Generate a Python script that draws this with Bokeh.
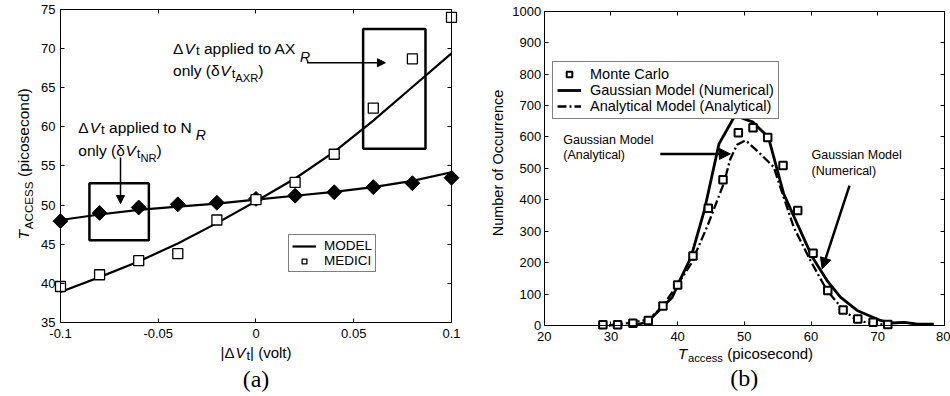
import math
from bokeh.plotting import figure
from bokeh.layouts import row
from bokeh.models import (Range1d, LinearAxis, FixedTicker, Label, Arrow, NormalHead,
                          Legend, LegendItem)
from bokeh.embed import file_html
from bokeh.resources import INLINE

FONT = "Liberation Sans"
SERIF = "Liberation Serif"

# ---- (a) access time versus threshold-voltage shift ----
dvt = [-0.1, -0.08, -0.06, -0.04, -0.02, 0.0, 0.02, 0.04, 0.06, 0.08, 0.1]
nr_model = [48.1, 48.8, 49.4, 49.8, 50.2, 50.7, 51.2, 51.7, 52.3, 53.1, 54.2]
nr_medici = [47.95, 49.0, 49.7, 50.1, 50.3, 50.8, 51.2, 51.65, 52.3, 52.8, 53.5]
axr_model = [38.9, 40.8, 42.8, 45.1, 47.7, 50.5, 53.4, 56.8, 60.8, 65.1, 69.4]
axr_medici = [39.6, 41.1, 42.9, 43.8, 48.1, 50.7, 52.9, 56.5, 62.4, 68.7, 74.0]
a_xlim = (-0.1, 0.1)
a_ylim = (35, 75)
a_xticks = [-0.1, -0.05, 0.0, 0.05, 0.1]
a_xtick_labels = ["-0.1", "-0.05", "0", "0.05", "0.1"]
a_yticks = [35, 40, 45, 50, 55, 60, 65, 70, 75]

# ---- (b) access-time distribution ----
mc_t = [28.8, 31.0, 33.3, 35.6, 37.8, 40.0, 42.3, 44.6, 46.8, 49.1, 51.3, 53.5,
        55.8, 58.0, 60.3, 62.5, 64.8, 67.0, 69.3, 71.5]
mc_n = [2, 2, 7, 16, 62, 129, 221, 373, 464, 613, 629, 598, 509, 366, 230, 111,
        49, 21, 10, 3]
num_t = [33.5, 35.5, 37.7, 39.2, 40.2, 42.0, 44.0, 46.2, 48.6, 51.3, 53.6, 55.9,
         58.0, 60.2, 62.4, 64.4, 66.9, 70.4, 72.0, 74.0, 76.0, 78.4]
num_n = [0, 12, 58, 90, 138, 217, 366, 578, 668, 647, 599, 419, 320, 217, 143, 90,
         48, 16, 8, 10, 4, 4]
ana_t = [29.7, 33.4, 35.7, 37.7, 39.9, 42.0, 44.4, 46.9, 47.9, 48.9, 50.2, 52.4,
         54.4, 55.9, 57.4, 59.9, 62.4, 64.9, 66.9, 69.4, 71.4]
ana_n = [0, 10, 20, 60, 127, 196, 313, 451, 530, 575, 589, 546, 504, 408, 313, 207,
         111, 48, 16, 5, 3]
b_xlim = (20, 80)
b_ylim = (0, 1000)
b_xticks = [20, 30, 40, 50, 60, 70, 80]
b_yticks = [0, 100, 200, 300, 400, 500, 600, 700, 800, 900, 1000]

# approximate advance widths (1/1000 em) for composing mixed-style labels
WIDTHS = {' ': 278, '(': 333, ')': 333, '|': 260, '-': 333, '.': 278,
          'A': 667, 'C': 722, 'D': 722, 'E': 667, 'G': 778, 'I': 278, 'L': 556,
          'M': 833, 'N': 722, 'O': 778, 'R': 722, 'S': 667, 'T': 611, 'V': 667,
          'X': 667, 'a': 556, 'b': 556, 'c': 500, 'd': 556, 'e': 556, 'f': 278,
          'i': 222, 'l': 222, 'm': 833, 'n': 556, 'o': 556, 'p': 556, 'r': 333,
          's': 500, 't': 278, 'u': 556, 'v': 500, 'y': 500,
          '\u0394': 740, '\u03b4': 600}


def text_width(s, size):
    return sum(WIDTHS.get(ch, 556) for ch in s) * size / 1000.0


def rich_label(p, x, y, pieces, size, anchor="left", vertical=False):
    """pieces: (text, italic, scale, shift) - shift moves a piece down its baseline."""
    widths = [text_width(t, size * sc) + (1.0 if it else 0.0)
              for t, it, sc, sh in pieces]
    pos = 0.0 if anchor == "left" else -sum(widths) / 2.0
    for (t, it, sc, sh), w in zip(pieces, widths):
        # leading blanks collapse in SVG text, so turn them into an offset
        body = t.lstrip(" ")
        start = pos + text_width(t[:len(t) - len(body)], size * sc)
        if vertical:
            xo, yo, ang = sh, start, math.pi / 2
        else:
            xo, yo, ang = start, -sh, 0.0
        p.add_layout(Label(x=x, y=y, x_offset=xo, y_offset=yo, text=body, angle=ang,
                           text_font=FONT, text_font_size=f"{size * sc:.1f}px",
                           text_font_style="italic" if it else "normal",
                           text_align="left", text_baseline="middle",
                           text_color="black"))
        pos += w


def box_axes(p, xlim, ylim, xticks, yticks, xlabels=None, ystandoff=5):
    """Boxed axes drawn at the data limits, ticks pointing inwards."""
    common = dict(major_tick_in=4, major_tick_out=0, minor_tick_line_color=None,
                  axis_line_color="black", major_tick_line_color="black",
                  major_label_text_font=FONT, major_label_text_font_size="13px",
                  major_label_text_color="black")
    bottom = LinearAxis(fixed_location=ylim[0], bounds=xlim,
                        ticker=FixedTicker(ticks=xticks), major_label_standoff=7,
                        **common)
    if xlabels:
        bottom.major_label_overrides = dict(zip(xticks, xlabels))
    left = LinearAxis(fixed_location=xlim[0], bounds=ylim,
                      ticker=FixedTicker(ticks=yticks),
                      major_label_standoff=ystandoff, **common)
    p.add_layout(bottom, "below")
    p.add_layout(left, "left")
    bare = dict(common, major_label_text_font_size="0px", major_label_text_color=None)
    top = LinearAxis(fixed_location=ylim[1], bounds=xlim,
                     ticker=FixedTicker(ticks=xticks), major_label_standoff=0, **bare)
    right = LinearAxis(fixed_location=xlim[1], bounds=ylim,
                       ticker=FixedTicker(ticks=yticks), major_label_standoff=0,
                       **bare)
    p.add_layout(top, "above")
    p.add_layout(right, "right")


def panel(x_range, y_range):
    p = figure(width=475, height=396, output_backend="svg", toolbar_location=None,
               x_range=x_range, y_range=y_range, x_axis_location=None,
               y_axis_location=None, min_border=0)
    p.grid.visible = False
    p.outline_line_color = None
    return p


# ================= panel (a) =================
# canvas extents: plot box spans 60..451 px across and 9..322 px down
pa = panel(Range1d(-0.13069, 0.11228), Range1d(25.543, 76.150))
box_axes(pa, a_xlim, a_ylim, a_xticks, a_yticks, a_xtick_labels)

# highlight boxes
pa.quad(left=[-0.0852], right=[-0.0548], bottom=[45.5], top=[52.8],
        fill_alpha=0, line_color="black", line_width=2.5)
pa.quad(left=[0.0548], right=[0.0867], bottom=[57.2], top=[72.5],
        fill_alpha=0, line_color="black", line_width=2.5)

pa.line(dvt, nr_model, line_color="black", line_width=2.2)
pa.scatter(dvt, nr_medici, marker="square", angle=math.pi / 4, size=10.5,
           fill_color="black", line_color="black")
axr_line = pa.line(dvt, axr_model, line_color="black", line_width=2.2)
axr_sq = pa.scatter(dvt, axr_medici, marker="square", size=10, fill_color="white",
                    line_color="black", line_width=1.3)

pa.add_layout(Arrow(end=NormalHead(size=8, fill_color="black", line_color="black"),
                    x_start=-0.0693, y_start=56.1, x_end=-0.0693, y_end=50.2,
                    line_width=1.5, line_color="black"))
pa.add_layout(Arrow(end=NormalHead(size=8, fill_color="black", line_color="black"),
                    x_start=0.0261, y_start=68.2, x_end=0.0662, y_end=68.2,
                    line_width=1.5, line_color="black"))

ANN = 15.5
rich_label(pa, -0.0909, 59.96, [("\u0394", False, 1, 0), ("V", True, 1, 0),
                                 ("t", False, 0.85, 2),
                                 (" applied to N", False, 1, 0),
                                 (" R", True, 0.9, 8)], ANN)
rich_label(pa, -0.0909, 56.98, [("only (\u03b4", False, 1, 0), ("V", True, 1, 0),
                                 ("t", False, 0.85, 3), ("NR", False, 0.72, 7),
                                 (")", False, 1, 0)], ANN)
rich_label(pa, -0.0424, 69.97, [("\u0394", False, 1, 0), ("V", True, 1, 0),
                                 ("t", False, 0.85, 2),
                                 (" applied to AX", False, 1, 0),
                                 (" R", True, 0.9, 8)], ANN)
rich_label(pa, -0.0424, 67.2, [("only (\u03b4", False, 1, 0), ("V", True, 1, 0),
                                ("t", False, 0.85, 3), ("AXR", False, 0.72, 7),
                                (")", False, 1, 0)], ANN)

# axis titles and caption
rich_label(pa, 0.0, 31.17, [("|\u0394", False, 1, 0), ("V", True, 1, 0),
                            ("t", False, 0.85, 3), ("| (volt)", False, 1, 0)],
           15, anchor="center")
rich_label(pa, -0.1189, 55.26, [("T", True, 1, 0), ("ACCESS", False, 0.75, 5),
                                (" (picosecond)", False, 1, 0)],
           15.5, anchor="center", vertical=True)
pa.add_layout(Label(x=0.0, y=27.84, text="(a)", text_font=SERIF,
                    text_font_size="24px", text_align="center",
                    text_baseline="middle", text_color="black"))

leg_a = Legend(items=[LegendItem(label="MODEL", renderers=[axr_line]),
                      LegendItem(label="MEDICI", renderers=[axr_sq])],
               location=(288, 124), label_text_font=FONT,
               label_text_font_size="13.5px", label_text_color="black",
               glyph_width=24, glyph_height=12, label_height=12, padding=3,
               spacing=0, margin=0, label_standoff=8,
               border_line_color="black", border_line_width=1,
               background_fill_color="white", background_fill_alpha=1)
pa.add_layout(leg_a)

# ================= panel (b) =================
# canvas extents: plot box spans 68.7..469 px across and 10.7..325 px down
pb = panel(Range1d(9.703, 80.899), Range1d(-225.9, 1034.04))
box_axes(pb, b_xlim, b_ylim, b_xticks, b_yticks, ystandoff=3)

num_line = pb.line(num_t, num_n, line_color="black", line_width=2.8)
ana_line = pb.line(ana_t, ana_n, line_color="black", line_width=2.3,
                   line_dash="9 3 2 3")
mc_pts = pb.scatter(mc_t, mc_n, marker="square", size=7.5, fill_color="white",
                    line_color="black", line_width=2)

pb.add_layout(Arrow(end=NormalHead(size=11, fill_color="black", line_color="black"),
                    x_start=37.4, y_start=546, x_end=47.9, y_end=546,
                    line_width=2.5, line_color="black"))
pb.add_layout(Arrow(end=NormalHead(size=11, fill_color="black", line_color="black"),
                    x_start=65.76, y_start=445, x_end=61.67, y_end=180,
                    line_width=2.5, line_color="black"))

for xx, yy, txt in ((22.85, 589, "Gaussian Model"), (22.85, 544, "(Analytical)"),
                    (60.06, 541, "Gaussian Model"), (60.06, 493, "(Numerical)")):
    pb.add_layout(Label(x=xx, y=yy, text=txt, text_font=FONT,
                        text_font_size="12.5px", text_align="left",
                        text_baseline="middle", text_color="black"))

pb.add_layout(Label(x=13.1, y=517, text="Number of Occurrence", angle=math.pi / 2,
                    text_font=FONT, text_font_size="14.5px", text_align="center",
                    text_baseline="middle", text_color="black"))
rich_label(pb, 50.17, -89, [("T", True, 1, 0), ("access", False, 0.75, 5),
                            (" (picosecond)", False, 1, 0)], 15, anchor="center")
pb.add_layout(Label(x=50.0, y=-168.6, text="(b)", text_font=SERIF,
                    text_font_size="24px", text_align="center",
                    text_baseline="middle", text_color="black"))

leg_b = Legend(items=[LegendItem(label="Monte Carlo", renderers=[mc_pts]),
                      LegendItem(label="Gaussian Model (Numerical)",
                                 renderers=[num_line]),
                      LegendItem(label="Analytical Model (Analytical)",
                                 renderers=[ana_line])],
               location=(77, 277), label_text_font=FONT,
               label_text_font_size="14.5px", label_text_color="black",
               glyph_width=24, glyph_height=14, label_height=14, padding=4,
               spacing=0, margin=0, label_standoff=9,
               border_line_color="black", border_line_width=1,
               background_fill_color="white", background_fill_alpha=1)
pb.add_layout(leg_b)

layout = row(pa, pb)
open("out.html", "w").write(file_html(layout, INLINE))
